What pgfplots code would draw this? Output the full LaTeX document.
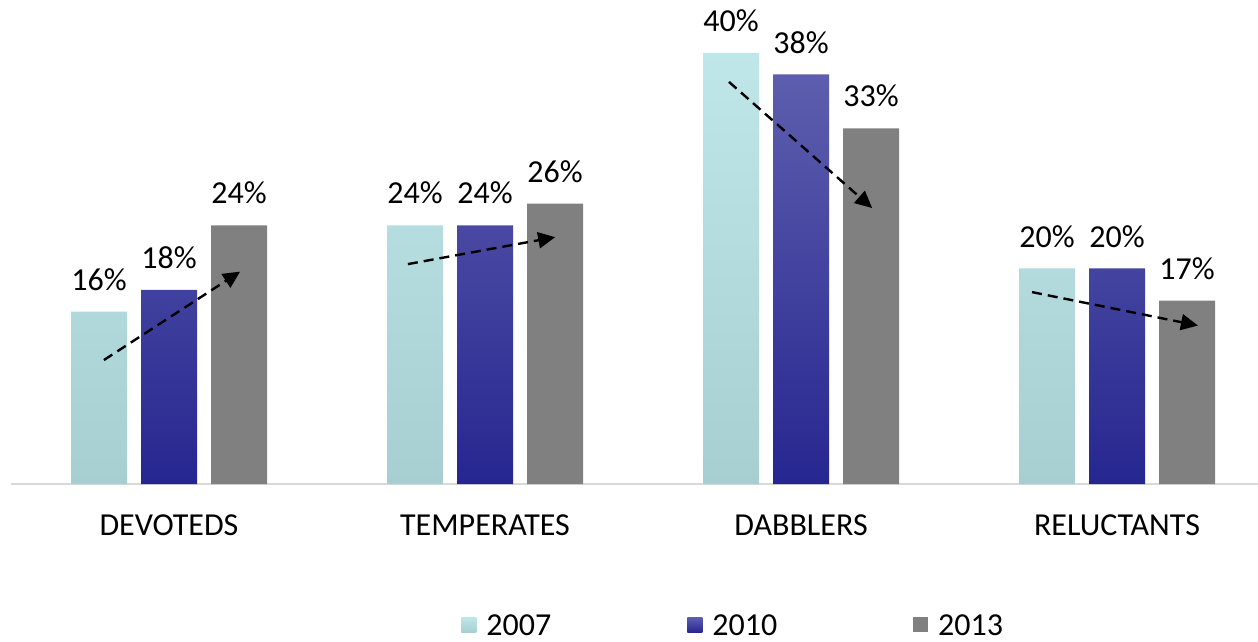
\documentclass[border=0pt]{standalone}
\usepackage{fontspec}
\setmainfont{Carlito}
\usepackage{pgfplots}
\pgfplotsset{compat=1.18}
\usetikzlibrary{arrows.meta}
\definecolor{cAt}{HTML}{BFE6E8}
\definecolor{cAb}{HTML}{A7CFD2}
\definecolor{cBt}{HTML}{5E5EAE}
\definecolor{cBb}{HTML}{262690}
\definecolor{cC}{HTML}{808080}
\begin{document}
\begin{tikzpicture}
\begin{axis}[name=ax, scale only axis, width=623.5pt, height=242pt,
  xmin=-0.5, xmax=3.446, ymin=0, ymax=44.9,
  axis x line*=bottom, axis y line=none,
  x axis line style={draw=black!15, line width=1pt},
  xtick={0,1,2,3}, xticklabels={DEVOTEDS,TEMPERATES,DABBLERS,RELUCTANTS},
  major tick length=0pt,
  /pgf/number format/assume math mode=true,
  tick label style={font=\fontsize{16}{19}\selectfont},
  xticklabel style={yshift=-12pt},
  legend columns=3,
  legend style={draw=none, at={(axis description cs:0.5800,-0.2940)}, anchor=center,
    font=\fontsize{16}{19}\selectfont, column sep=3pt, inner sep=1pt,
    /tikz/every even column/.append style={column sep=66pt}},
  legend image code/.code={\draw[#1, draw=none] (0pt,-3pt) rectangle (7.5pt,4.5pt);},
  every node near coord/.append style={font=\fontsize{16}{19}\selectfont, text=black, yshift=7pt},
]
\addplot[ybar, bar width=28pt, bar shift=-35pt, draw=none, top color=cAt, bottom color=cAb,
  nodes near coords={\pgfmathprintnumber{\pgfplotspointmeta}\%},
  nodes near coords style={xshift=-35pt}]
  coordinates {(0,16) (1,24) (2,40) (3,20)};
\addlegendentry{2007}
\addplot[ybar, bar width=28pt, bar shift=0pt, draw=none, top color=cBt, bottom color=cBb,
  nodes near coords={\pgfmathprintnumber{\pgfplotspointmeta}\%}]
  coordinates {(0,18) (1,24) (2,38) (3,20)};
\addlegendentry{2010}
\addplot[ybar, bar width=28pt, bar shift=35pt, draw=none, fill=cC,
  nodes near coords={\pgfmathprintnumber{\pgfplotspointmeta}\%},
  nodes near coords style={xshift=35pt}]
  coordinates {(0,24) (1,26) (2,33) (3,17)};
\addlegendentry{2013}
\addplot[forget plot, sharp plot, black, line width=1.2pt, dash pattern=on 5pt off 3pt, -{Triangle[length=8.5pt,width=8pt]}]
  coordinates {(-0.206,11.5) (0.225,19.7)};
\addplot[forget plot, sharp plot, black, line width=1.2pt, dash pattern=on 5pt off 3pt, -{Triangle[length=8.5pt,width=8pt]}]
  coordinates {(0.756,20.4) (1.222,22.9)};
\addplot[forget plot, sharp plot, black, line width=1.2pt, dash pattern=on 5pt off 3pt, -{Triangle[length=8.5pt,width=8pt]}]
  coordinates {(1.772,37.3) (2.225,25.6)};
\addplot[forget plot, sharp plot, black, line width=1.2pt, dash pattern=on 5pt off 3pt, -{Triangle[length=8.5pt,width=8pt]}]
  coordinates {(2.731,17.8) (3.256,14.7)};
\end{axis}
\pgfresetboundingbox
\path[use as bounding box] (ax.south west) ++(-5.5pt,-79pt) rectangle (ax.north east);
\end{tikzpicture}
\end{document}
